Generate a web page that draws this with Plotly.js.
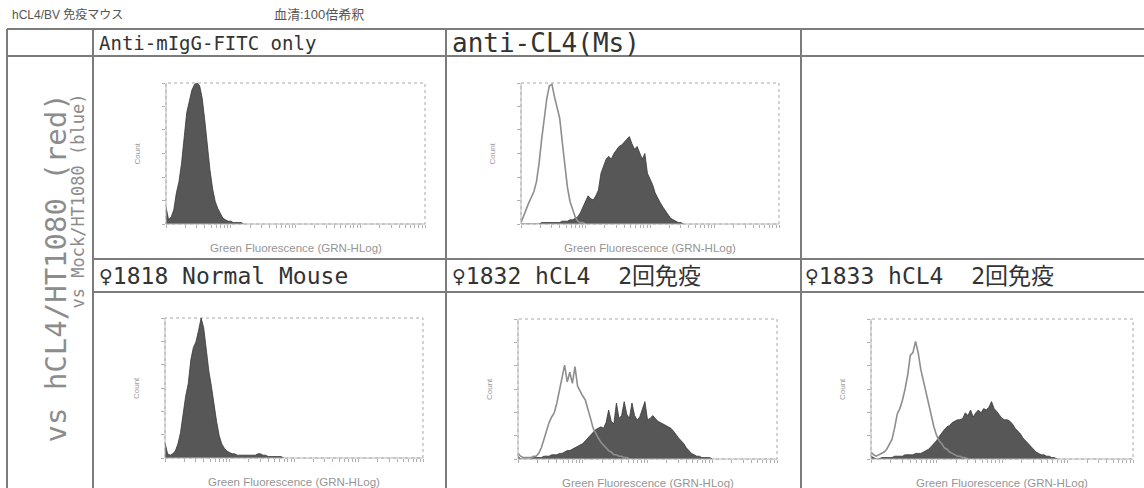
<!DOCTYPE html>
<html>
<head>
<meta charset="utf-8">
<script src="https://cdn.plot.ly/plotly-3.0.1.min.js"></script>
<style>html,body{margin:0;padding:0;background:#fff}#chart{width:1144px;height:488px}</style>
</head>
<body>
<div id="chart"></div>
<script>
// ---------------- DATA (histogram counts, % of panel max; one value per channel bin) ----------------
const headerTop = ["Anti-mIgG-FITC only", "anti-CL4(Ms)"];
const headerBottom = ["\u26401818 Normal Mouse", "\u26401832 hCL4  2回免疫", "\u26401833 hCL4  2回免疫"];
const rowLabelMain = "vs hCL4/HT1080 (red)";
const rowLabelSub = "vs Mock/HT1080 (blue)";
const topNoteLeft = "hCL4/BV 免疫マウス";
const topNoteRight = "血清:100倍希釈";
const yAxisTitle = "Count";
const xAxisTitle = "Green Fluorescence (GRN-HLog)";

// Anti-mIgG-FITC only (stained = filled)
const p1Stain = [12,3,5,10,22,30,43,62,79,87,95,99,100,98,89,73,53,38,25,16,11,7,4,3,2,2,1,1,1,1,0];
// anti-CL4(Ms)
const p2Ctrl  = [1,6,11,15,19,23,30,43,60,75,89,98,99,90,82,75,58,40,26,16,11,5,2,1,1,0];
const p2Stain = [0,0,0,0,0,0,0,0,1,1,1,1,1,1,1,1,2,2,2,3,3,4,5,8,12,17,20,18,17,20,24,36,41,46,48,46,50,53,55,56,58,60,62,57,53,55,50,46,50,36,32,28,22,18,15,12,9,6,4,3,2,1,1,0];
// ♀1818 Normal Mouse
const p3Stain = [11,3,2,3,5,10,18,31,44,53,70,79,83,91,100,93,77,62,51,38,26,16,10,7,5,4,3,3,2,2,2,2,2,2,2,2,3,3,2,2,1,1,1,1,1,1,0];
// ♀1832 hCL4
const p4Ctrl  = [4,2,1,1,1,1,2,2,4,8,14,21,26,30,33,40,49,58,67,55,62,54,66,52,48,45,42,36,29,22,18,15,12,10,8,6,5,3,3,2,2,1,1,0];
const p4Stain = [2,0,0,0,0,0,1,1,1,1,2,2,2,3,3,3,4,4,5,6,6,7,8,9,10,11,13,15,17,19,21,22,23,22,26,35,27,25,40,29,31,41,32,29,40,31,28,30,36,41,28,29,31,29,27,26,25,24,23,22,20,17,15,13,11,8,6,4,3,2,2,1,1,1,1,0];
// ♀1833 hCL4
const p5Ctrl  = [5,3,2,3,4,5,7,10,14,22,32,36,42,50,60,74,76,84,76,64,56,47,38,30,23,17,13,11,8,7,5,4,3,2,2,1,1,0];
const p5Stain = [2,1,0,0,1,1,1,1,1,2,2,2,2,3,3,3,3,4,4,4,5,6,7,9,11,13,16,19,21,23,24,26,27,28,28,29,33,31,35,30,33,35,33,36,35,37,41,36,34,31,29,28,28,27,25,22,20,18,15,13,11,9,7,5,4,3,3,2,2,1,1,0];

// ---------------- LAYOUT HELPERS ----------------
const W = 1144, H = 488;
const fx = v => v / W;
const fy = v => 1 - v / H;

// plot boxes in pixels [left, right, top, bottom]
const panels = [
  {box:[166,425,83,224], stain:p1Stain, ctrl:null},
  {box:[521,779,83,224], stain:p2Stain, ctrl:p2Ctrl},
  {box:[165,423,318,458], stain:p3Stain, ctrl:null},
  {box:[518,777,319,459], stain:p4Stain, ctrl:p4Ctrl},
  {box:[871,1133,319,459], stain:p5Stain, ctrl:p5Ctrl}
];

// log-decade tick positions for the HLog axis (4 decades over 0..100)
const logTicks = [];
for (let d = 0; d < 4; d++) for (let k = 1; k <= 9; k++) logTicks.push(25 * (d + Math.log10(k)));
logTicks.push(100);

const traces = [];
const layout = {
  width: W, height: H,
  margin: {l:0, r:0, t:0, b:0},
  paper_bgcolor: '#ffffff', plot_bgcolor: 'rgba(0,0,0,0)',
  showlegend: false,
  shapes: [], annotations: []
};

const binX = arr => arr.map((_, i) => i);

panels.forEach((p, i) => {
  const n = i + 1;
  const xa = n === 1 ? 'x' : 'x' + n;
  const ya = n === 1 ? 'y' : 'y' + n;
  const [l, r, t, b] = p.box;
  layout[n === 1 ? 'xaxis' : 'xaxis' + n] = {
    domain: [fx(l), fx(r)], anchor: ya, range: [0, 100],
    showgrid: false, zeroline: false, showline: false, fixedrange: true,
    ticks: 'outside', tickvals: logTicks, ticklen: 3, tickwidth: 1, tickcolor: '#b0b0b0',
    showticklabels: false
  };
  layout[n === 1 ? 'yaxis' : 'yaxis' + n] = {
    domain: [fy(b), fy(t)], anchor: xa, range: [0, 100],
    showgrid: false, zeroline: false, showline: false, fixedrange: true,
    ticks: 'outside', tickvals: [0, 17, 33, 50, 67, 83, 100], ticklen: 3, tickwidth: 1, tickcolor: '#b0b0b0',
    showticklabels: false
  };
  // dotted frame
  layout.shapes.push({type:'rect', xref: xa + ' domain', yref: ya + ' domain', x0:0, x1:1, y0:0, y1:1,
    line:{color:'#a8a8a8', width:1, dash:'dot'}, layer:'below'});
  layout.shapes.push({type:'line', xref: xa + ' domain', yref: ya + ' domain', x0:0, x1:1, y0:0, y1:0,
    line:{color:'#b8b8b8', width:1}});
  layout.shapes.push({type:'line', xref: xa + ' domain', yref: ya + ' domain', x0:0, x1:0, y0:0, y1:1,
    line:{color:'#b8b8b8', width:1}});

  traces.push({
    type:'scatter', mode:'lines', x: binX(p.stain), y: p.stain, xaxis: xa, yaxis: ya,
    fill:'tozeroy', fillcolor:'#575757', line:{color:'#383838', width:0.8}, hoverinfo:'skip', cliponaxis:false
  });
  if (p.ctrl) {
    traces.push({
      type:'scatter', mode:'lines', x: binX(p.ctrl), y: p.ctrl, xaxis: xa, yaxis: ya,
      line:{color:'#8e8e8e', width:1.6}, hoverinfo:'skip'
    });
  }
  // axis titles
  layout.annotations.push({xref:'paper', yref:'paper', x: fx(l - 29), y: fy((t + b) / 2),
    text: yAxisTitle, textangle: -90, showarrow:false, xanchor:'center', yanchor:'middle',
    font:{family:'Liberation Sans, Arial, sans-serif', size:8, color:'#9a9a9a'}});
  layout.annotations.push({xref:'paper', yref:'paper', x: fx((l + r) / 2), y: fy(b + 24),
    text: xAxisTitle, showarrow:false, xanchor:'center', yanchor:'middle',
    font:{family:'Liberation Sans, Arial, sans-serif', size:11.5, color:'#959595'}});
});

// ---------------- TABLE GRID ----------------
const gridColor = '#7c7c7c';
const hline = (y, x0, x1) => ({type:'line', xref:'paper', yref:'paper', x0: fx(x0), x1: fx(x1), y0: fy(y), y1: fy(y), line:{color:gridColor, width:2}});
const vline = (x, y0, y1) => ({type:'line', xref:'paper', yref:'paper', x0: fx(x), x1: fx(x), y0: fy(y0), y1: fy(y1), line:{color:gridColor, width:2}});
layout.shapes.push(hline(29, 7, 1144), hline(56, 7, 1144), hline(259, 93, 1144), hline(292, 93, 1144));
layout.shapes.push(vline(7, 29, 488), vline(93, 29, 488), vline(446, 29, 488), vline(801, 29, 488));

// ---------------- TEXTS ----------------
const mono = 'DejaVu Sans Mono, Noto Sans CJK JP, monospace';
const ann = (x, y, text, size, color, extra) => Object.assign({xref:'paper', yref:'paper', x: fx(x), y: fy(y), text,
  showarrow:false, xanchor:'left', yanchor:'middle', font:{family: mono, size, color}}, extra || {});
const noteFont = {family:'Liberation Sans, Noto Sans CJK JP, sans-serif', size:12, color:'#555'};

layout.annotations.push(ann(10, 15, topNoteLeft, 12, '#555', {font: noteFont}));
layout.annotations.push(ann(272, 15, topNoteRight, 12, '#555', {font: Object.assign({}, noteFont, {size:13})}));
layout.annotations.push(ann(97, 43, headerTop[0], 19, '#333'));
layout.annotations.push(ann(450, 43, headerTop[1], 26, '#333'));
layout.annotations.push(ann(97, 276, headerBottom[0], 23, '#333'));
layout.annotations.push(ann(450, 276, headerBottom[1], 23, '#333'));
layout.annotations.push(ann(803, 276, headerBottom[2], 23, '#333'));

layout.annotations.push({xref:'paper', yref:'paper', x: fx(55), y: fy(92), text: rowLabelMain, textangle:-90,
  showarrow:false, xanchor:'center', yanchor:'top', font:{family: mono, size:29, color:'#8c8c8c'}});
layout.annotations.push({xref:'paper', yref:'paper', x: fx(77), y: fy(92), text: rowLabelSub, textangle:-90,
  showarrow:false, xanchor:'center', yanchor:'top', font:{family: mono, size:17, color:'#8c8c8c'}});

Plotly.newPlot('chart', traces, layout, {staticPlot:true, displayModeBar:false});
</script>
</body>
</html>
